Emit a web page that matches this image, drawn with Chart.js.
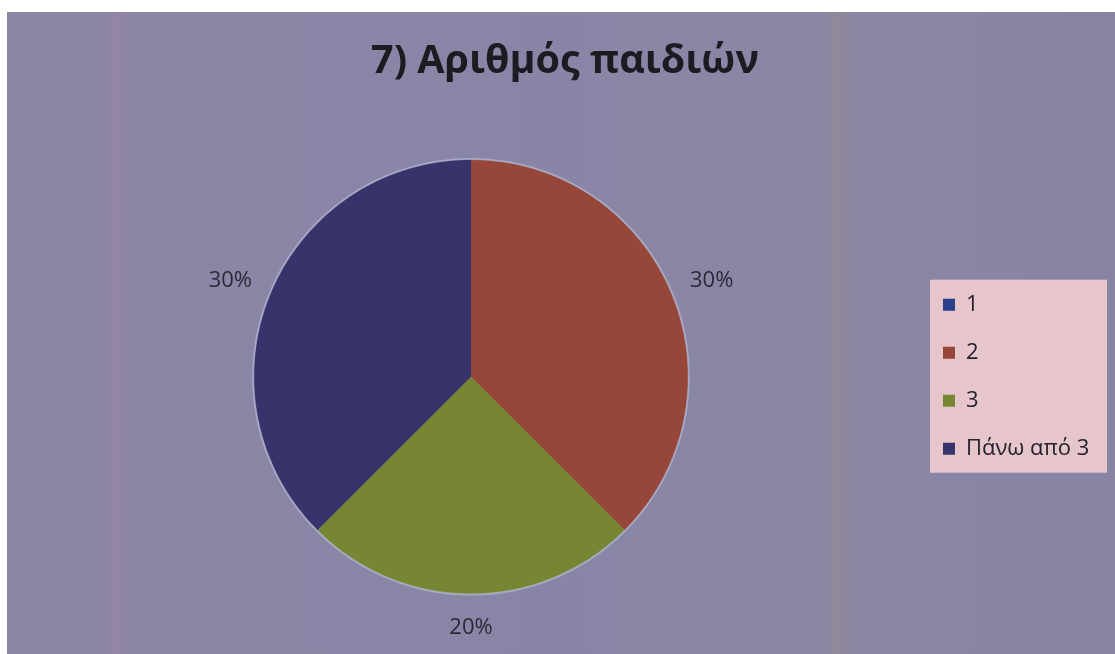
<!DOCTYPE html>
<html>
<head>
<meta charset="utf-8">
<script src="https://cdn.jsdelivr.net/npm/chart.js@4.4.1/dist/chart.umd.min.js"></script>
<style>
  html, body { margin: 0; padding: 0; background: #ffffff; }
  canvas { display: block; }
</style>
</head>
<body>
<canvas id="c" width="1115" height="654"></canvas>
<script>
const chartTitle = '7) Αριθμός παιδιών';
const categories = ['1', '2', '3', 'Πάνω από 3'];
const values = [0, 30, 20, 30];
const sliceColors = ['#2a3f8c', '#97473a', '#778633', '#38336b'];

const backgroundPlugin = {
  id: 'bg',
  beforeDraw(chart) {
    const ctx = chart.ctx;
    const W = chart.width, H = chart.height;
    ctx.save();
    ctx.fillStyle = '#ffffff';
    ctx.fillRect(0, 0, W, H);
    const g = ctx.createLinearGradient(7, 0, W, 0);
    g.addColorStop(0.00, '#8b86a6');
    g.addColorStop(0.085, '#8b86a6');
    g.addColorStop(0.10, '#9385a5');
    g.addColorStop(0.115, '#8b86a6');
    g.addColorStop(0.50, '#8985a6');
    g.addColorStop(0.735, '#8a86a4');
    g.addColorStop(0.75, '#918999');
    g.addColorStop(0.765, '#8a86a4');
    g.addColorStop(1.00, '#8884a4');
    ctx.fillStyle = g;
    ctx.fillRect(7, 12, W - 7, H - 12);
    // legend panel
    const lg = chart.legend;
    if (lg && chart.chartArea) {
      const cy = (chart.chartArea.top + chart.chartArea.bottom) / 2;
      ctx.fillStyle = '#e6c6ca';
      ctx.fillRect(lg.left + 13, cy - 97, 177, 193);
    }
    ctx.restore();
  }
};

const legendWidthPlugin = {
  id: 'legendWidth',
  beforeLayout(chart) {
    const lg = chart.legend;
    if (lg && !lg._fixedWidth) {
      const orig = lg.fit;
      lg.fit = function () { orig.call(this); this.width = 188; };
      lg._fixedWidth = true;
    }
  }
};

const pieDecorPlugin = {
  id: 'pieDecor',
  afterDatasetsDraw(chart) {
    const ctx = chart.ctx;
    const meta = chart.getDatasetMeta(0);
    const data = chart.data.datasets[0].data;
    if (!meta.data.length) return;
    const a0 = meta.data[0];
    ctx.save();
    ctx.beginPath();
    ctx.arc(a0.x, a0.y, a0.outerRadius + 0.5, 0, Math.PI * 2);
    ctx.strokeStyle = 'rgba(195,205,230,0.5)';
    ctx.lineWidth = 2;
    ctx.stroke();

    ctx.font = '22px "Open Sans"';
    ctx.fillStyle = '#2a2936';
    ctx.textAlign = 'center';
    ctx.textBaseline = 'middle';
    meta.data.forEach((arc, i) => {
      const v = data[i];
      if (!v) return;
      const mid = (arc.startAngle + arc.endAngle) / 2;
      const dx = Math.cos(mid), dy = Math.sin(mid);
      const txt = v + '%';
      const hw = ctx.measureText(txt).width / 2;
      const hh = 11;
      const ext = Math.abs(dx) * hw + Math.abs(dy) * hh;
      const d = arc.outerRadius + 19 + ext;
      ctx.fillText(txt, arc.x + dx * d, arc.y + dy * d + 4);
    });
    ctx.restore();
  }
};

new Chart(document.getElementById('c'), {
  type: 'pie',
  data: {
    labels: categories,
    datasets: [{
      data: values,
      backgroundColor: sliceColors,
      borderWidth: 0
    }]
  },
  options: {
    responsive: false,
    animation: false,
    layout: { padding: { top: 12, left: 25, right: 10, bottom: 60 } },
    plugins: {
      title: {
        display: true,
        text: chartTitle,
        color: '#1c1b22',
        font: { family: '"Open Sans"', size: 39.5, weight: 'bold', lineHeight: 1.2 },
        padding: { top: 26, bottom: 74 }
      },
      legend: {
        position: 'right',
        fullSize: false,
        align: 'center',
        labels: {
          color: '#23222b',
          font: { family: '"Open Sans"', size: 22 },
          boxWidth: 12,
          boxHeight: 12,
          padding: 26
        }
      },
      tooltip: { enabled: false }
    }
  },
  plugins: [backgroundPlugin, legendWidthPlugin, pieDecorPlugin]
});
</script>
</body>
</html>
